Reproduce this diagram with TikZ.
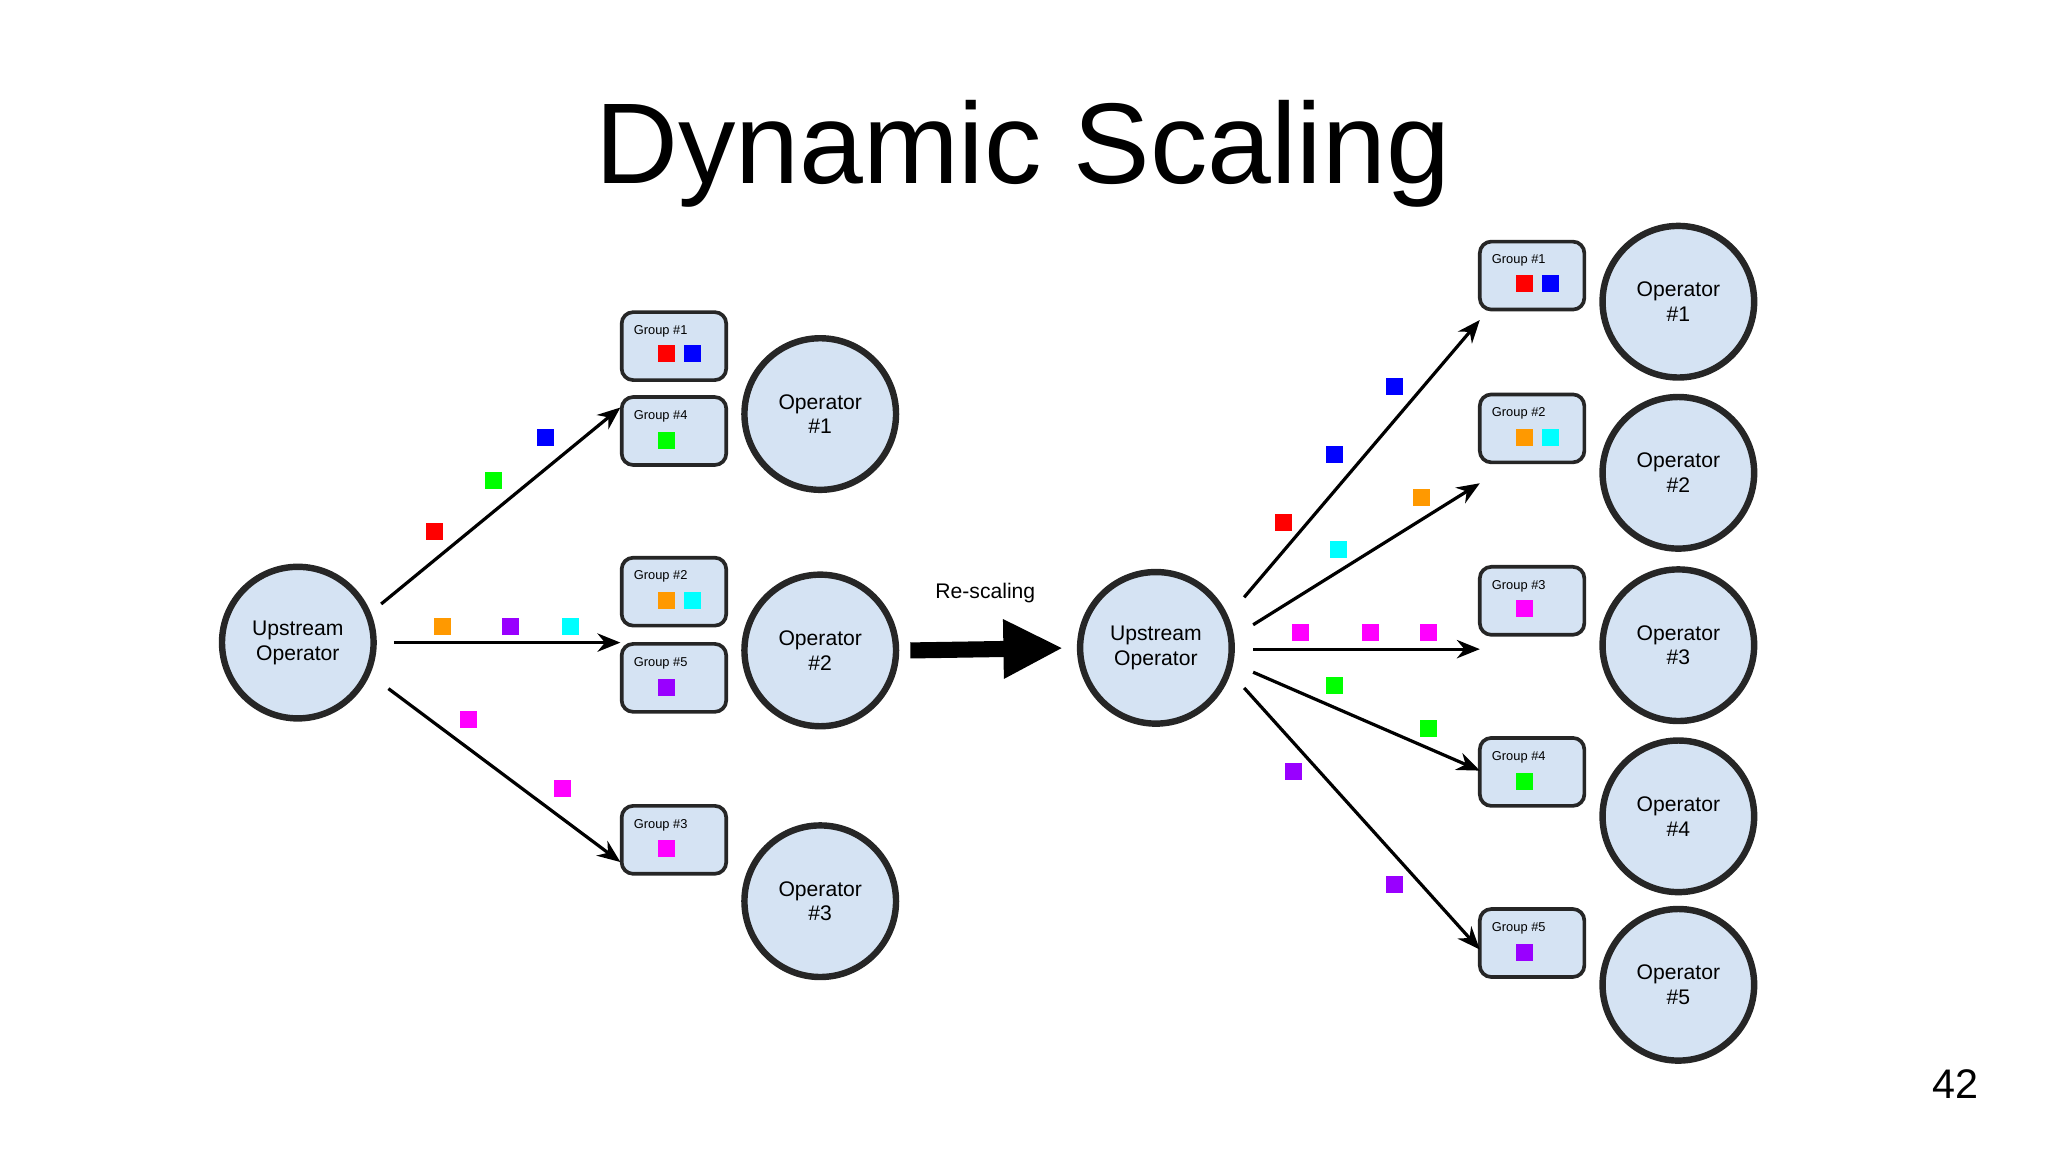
\documentclass[tikz,border=0pt]{standalone}
\usepackage{fontspec}
\setmainfont{Liberation Sans}
\usetikzlibrary{arrows.meta,calc}
\definecolor{opfill}{HTML}{D5E3F3}
\definecolor{sqorange}{HTML}{FF9900}
\definecolor{sqpurple}{HTML}{9900FF}
\definecolor{sqmagenta}{HTML}{FF00FF}
\definecolor{sqcyan}{HTML}{00FFFF}
\tikzset{
  op/.style={circle, draw=black!85, line width=1.4pt, fill=opfill, minimum size=1.16cm, inner sep=0pt, align=center, font=\fontsize{4.6}{5.4}\selectfont},
  grp/.style={rectangle, rounded corners=2.5pt, draw=black!85, line width=0.8pt, fill=opfill, minimum width=0.8cm, minimum height=0.52cm, inner sep=0pt},
  glab/.style={font=\fontsize{2.8}{3}\selectfont, anchor=west, inner sep=0pt},
  sq/.style={rectangle, fill=#1, minimum size=0.13cm, inner sep=0pt},
  flow/.style={line width=0.7pt, -{Stealth[length=5pt,width=4pt]}},
}
% group box: name, center x, center y, label
\newcommand{\grpbox}[4]{%
  \node[grp] (#1) at (#2,#3) {};
  \node[glab] (#1l) at ($(#1.north west)+(10,16)$) {#4};
}
\begin{document}
\begin{tikzpicture}[x=0.01cm, y=-0.01cm]
\useasboundingbox (0,0) rectangle (1568,882);
\node[font=\fontsize{25}{28}\selectfont] (title) at (783,118) {Dynamic Scaling};
\node[font=\fontsize{9}{10}\selectfont] (page) at (1497,830) {42};

% ---- left side ----
\node[op] (u1) at (228,492) {Upstream\\Operator};
\node[op] (lo1) at (628,317) {Operator\\\#1};
\node[op] (lo2) at (628,498) {Operator\\\#2};
\node[op] (lo3) at (628,690) {Operator\\\#3};
\grpbox{lg1}{516}{265}{Group \#1}
\grpbox{lg4}{516}{330}{Group \#4}
\grpbox{lg2}{516}{453}{Group \#2}
\grpbox{lg5}{516}{519}{Group \#5}
\grpbox{lg3}{516}{643}{Group \#3}
\node[sq=red] at (510,271) {}; \node[sq=blue] at (530,271) {};
\node[sq=green] at (510,337) {};
\node[sq=sqorange] at (510,460) {}; \node[sq=sqcyan] at (530,460) {};
\node[sq=sqpurple] at (510,526) {};
\node[sq=sqmagenta] at (510,650) {};

\coordinate (la1) at (475,312);
\coordinate (la2) at (475,492);
\coordinate (la3) at (475,660);
\draw[flow] (u1.25) ++(9,-4) -- (la1);
\draw[flow] (u1.0) ++(13,0) -- (la2);
\draw[flow] (u1.-30) ++(17,5) -- (la3);
\node[sq=red] at (333,407) {}; \node[sq=green] at (378,368) {}; \node[sq=blue] at (418,335) {};
\node[sq=sqorange] at (339,480) {}; \node[sq=sqpurple] at (391,480) {}; \node[sq=sqcyan] at (437,480) {};
\node[sq=sqmagenta] at (359,551) {}; \node[sq=sqmagenta] at (431,604) {};

% ---- re-scaling ----
\node[op] (u2) at (885,496) {Upstream\\Operator};
\coordinate (rs) at (697,498);
\draw[line width=3.5pt, shorten >=3pt, -{Triangle[length=13pt,width=12pt]}] (rs) -- (u2.west) node[pos=0.45, above=5pt, font=\fontsize{4.6}{5}\selectfont] (rsl) {Re-scaling};

% ---- right side ----
\node[op] (ro1) at (1285,231) {Operator\\\#1};
\node[op] (ro2) at (1285,362) {Operator\\\#2};
\node[op] (ro3) at (1285,494) {Operator\\\#3};
\node[op] (ro4) at (1285,625) {Operator\\\#4};
\node[op] (ro5) at (1285,754) {Operator\\\#5};
\grpbox{rg1}{1173}{211}{Group \#1}
\grpbox{rg2}{1173}{328}{Group \#2}
\grpbox{rg3}{1173}{460}{Group \#3}
\grpbox{rg4}{1173}{591}{Group \#4}
\grpbox{rg5}{1173}{722}{Group \#5}
\node[sq=red] at (1167,217) {}; \node[sq=blue] at (1187,217) {};
\node[sq=sqorange] at (1167,335) {}; \node[sq=sqcyan] at (1187,335) {};
\node[sq=sqmagenta] at (1167,466) {};
\node[sq=green] at (1167,598) {};
\node[sq=sqpurple] at (1167,729) {};

\coordinate (ra1) at (1133,245);
\coordinate (ra2) at (1133,370);
\coordinate (ra3) at (1133,497);
\coordinate (ra4) at (1133,590);
\coordinate (ra5) at (1133,727);
\draw[flow] (u2.35) ++(18,-4) -- (ra1);
\draw[flow] (u2.15) ++(16,-2) -- (ra2);
\draw[flow] (u2.0) ++(14,1) -- (ra3);
\draw[flow] (u2.-15) ++(16,3) -- (ra4);
\draw[flow] (u2.-35) ++(18,-4) -- (ra5);
\node[sq=blue] at (1068,296) {}; \node[sq=blue] at (1022,348) {}; \node[sq=red] at (983,400) {};
\node[sq=sqorange] at (1088,381) {}; \node[sq=sqcyan] at (1025,421) {};
\node[sq=sqmagenta] at (996,484) {}; \node[sq=sqmagenta] at (1049,484) {}; \node[sq=sqmagenta] at (1094,484) {};
\node[sq=green] at (1022,525) {}; \node[sq=green] at (1094,558) {};
\node[sq=sqpurple] at (990,591) {}; \node[sq=sqpurple] at (1068,677) {};
\end{tikzpicture}
\end{document}
